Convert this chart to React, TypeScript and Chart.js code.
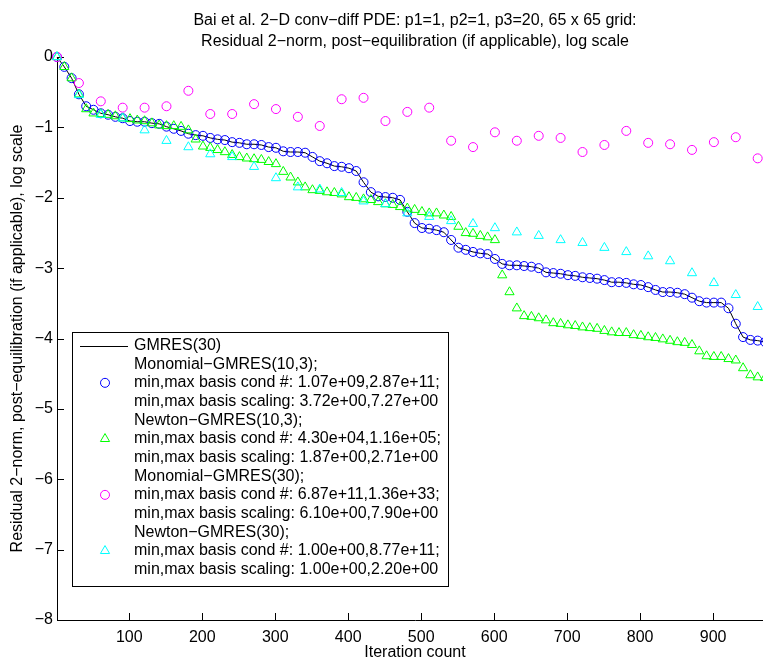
import React, { useEffect, useRef } from "react";
import { Chart, registerables } from "chart.js";

Chart.register(...registerables);

const TITLE_LINES = [
  "Bai et al. 2\u2212D conv\u2212diff PDE: p1=1, p2=1, p3=20, 65 x 65 grid:",
  "Residual 2\u2212norm, post\u2212equilibration (if applicable), log scale",
];
const X_LABEL = "Iteration count";
const Y_LABEL = "Residual 2\u2212norm, post\u2212equilibration (if applicable), log scale";
const X_TICKS = [100, 200, 300, 400, 500, 600, 700, 800, 900];
const Y_TICKS = [0, -1, -2, -3, -4, -5, -6, -7, -8];

// iteration counts of the markers (every 10 and every 30 iterations)
const ITER10 = [
  1, 11, 21, 31, 41, 51, 61, 71, 81, 91,
  101, 111, 121, 131, 141, 151, 161, 171, 181, 191,
  201, 211, 221, 231, 241, 251, 261, 271, 281, 291,
  301, 311, 321, 331, 341, 351, 361, 371, 381, 391,
  401, 411, 421, 431, 441, 451, 461, 471, 481, 491,
  501, 511, 521, 531, 541, 551, 561, 571, 581, 591,
  601, 611, 621, 631, 641, 651, 661, 671, 681, 691,
  701, 711, 721, 731, 741, 751, 761, 771, 781, 791,
  801, 811, 821, 831, 841, 851, 861, 871, 881, 891,
  901, 911, 921, 931, 941, 951, 961, 971, 981,
];
const ITER30 = [
  1, 31, 61, 91, 121, 151, 181, 211, 241, 271, 301,
  331, 361, 391, 421, 451, 481, 511, 541, 571, 601,
  631, 661, 691, 721, 751, 781, 811, 841, 871, 901, 931, 961,
];

// GMRES(30) residual (log10)
const GMRES30 = [
  0, -0.14, -0.30, -0.53, -0.70, -0.75, -0.80, -0.82, -0.85, -0.87,
  -0.91, -0.92, -0.92, -0.94, -0.95, -0.99, -1.02, -1.05, -1.09, -1.11,
  -1.12, -1.15, -1.17, -1.18, -1.21, -1.22, -1.24, -1.24, -1.25, -1.28,
  -1.29, -1.34, -1.35, -1.35, -1.36, -1.42, -1.48, -1.51, -1.55, -1.56,
  -1.58, -1.62, -1.78, -1.92, -1.98, -1.99, -2.00, -2.03, -2.20, -2.36,
  -2.43, -2.44, -2.46, -2.49, -2.60, -2.71, -2.74, -2.77, -2.79, -2.80,
  -2.87, -2.94, -2.96, -2.96, -2.97, -2.98, -3.00, -3.06, -3.07, -3.08,
  -3.10, -3.11, -3.13, -3.14, -3.15, -3.17, -3.20, -3.20, -3.21, -3.23,
  -3.24, -3.27, -3.31, -3.34, -3.34, -3.35, -3.37, -3.42, -3.47, -3.49,
  -3.49, -3.49, -3.57, -3.79, -3.98, -4.02, -4.03, -4.05, -4.08,
];
// Monomial-GMRES(10,3)
const MONO_10_3 = [
  0, -0.14, -0.30, -0.53, -0.70, -0.75, -0.80, -0.82, -0.85, -0.87,
  -0.91, -0.92, -0.92, -0.94, -0.95, -0.99, -1.02, -1.05, -1.09, -1.11,
  -1.12, -1.15, -1.17, -1.18, -1.21, -1.22, -1.24, -1.24, -1.25, -1.28,
  -1.29, -1.34, -1.35, -1.35, -1.36, -1.42, -1.48, -1.51, -1.55, -1.56,
  -1.58, -1.62, -1.78, -1.92, -1.98, -1.99, -2.00, -2.03, -2.20, -2.36,
  -2.43, -2.44, -2.46, -2.49, -2.60, -2.71, -2.74, -2.77, -2.79, -2.80,
  -2.87, -2.94, -2.96, -2.96, -2.97, -2.98, -3.00, -3.06, -3.07, -3.08,
  -3.10, -3.11, -3.13, -3.14, -3.15, -3.17, -3.20, -3.20, -3.21, -3.23,
  -3.24, -3.27, -3.31, -3.34, -3.34, -3.35, -3.37, -3.42, -3.47, -3.49,
  -3.49, -3.49, -3.57, -3.79, -3.98, -4.02, -4.03, -4.05, -4.08,
];
// Newton-GMRES(10,3)
const NEWTON_10_3 = [
  0, -0.14, -0.30, -0.53, -0.74, -0.80, -0.81, -0.82, -0.84, -0.87,
  -0.88, -0.90, -0.91, -0.94, -0.97, -0.98, -0.98, -0.99, -1.04, -1.17,
  -1.27, -1.29, -1.32, -1.35, -1.39, -1.42, -1.44, -1.45, -1.46, -1.49,
  -1.52, -1.63, -1.71, -1.78, -1.85, -1.89, -1.90, -1.92, -1.93, -1.95,
  -1.99, -2.00, -2.02, -2.03, -2.06, -2.09, -2.10, -2.13, -2.15, -2.17,
  -2.20, -2.22, -2.22, -2.25, -2.27, -2.41, -2.50, -2.51, -2.54, -2.56,
  -2.60, -3.10, -3.34, -3.57, -3.68, -3.69, -3.71, -3.74, -3.78, -3.79,
  -3.81, -3.82, -3.84, -3.85, -3.86, -3.89, -3.91, -3.92, -3.92, -3.95,
  -3.96, -3.98, -3.99, -4.01, -4.03, -4.05, -4.06, -4.09, -4.18, -4.25,
  -4.26, -4.26, -4.29, -4.31, -4.42, -4.52, -4.55, -4.56, -4.58,
];
// Monomial-GMRES(30)
const MONO_30 = [
  0, -0.37, -0.63, -0.72, -0.72, -0.70, -0.48, -0.81, -0.81, -0.67, -0.74,
  -0.85, -0.98, -0.60, -0.58, -0.91, -0.78, -0.72, -1.19, -1.28, -1.07,
  -1.19, -1.12, -1.15, -1.35, -1.25, -1.05, -1.22, -1.24, -1.32, -1.21, -1.14, -1.44,
];
// Newton-GMRES(30)
const NEWTON_30 = [
  0, -0.54, -0.82, -0.87, -1.04, -1.19, -1.28, -1.38, -1.42, -1.56, -1.72,
  -1.85, -1.88, -1.93, -2.05, -2.09, -2.22, -2.27, -2.33, -2.37, -2.43,
  -2.49, -2.54, -2.60, -2.64, -2.71, -2.77, -2.83, -2.90, -3.07, -3.21, -3.38, -3.55,
];

const LEGEND_LINES = [
  "GMRES(30)",
  "Monomial\u2212GMRES(10,3);",
  "min,max basis cond #: 1.07e+09,2.87e+11;",
  "min,max basis scaling: 3.72e+00,7.27e+00",
  "Newton\u2212GMRES(10,3);",
  "min,max basis cond #: 4.30e+04,1.16e+05;",
  "min,max basis scaling: 1.87e+00,2.71e+00",
  "Monomial\u2212GMRES(30);",
  "min,max basis cond #: 6.87e+11,1.36e+33;",
  "min,max basis scaling: 6.10e+00,7.90e+00",
  "Newton\u2212GMRES(30);",
  "min,max basis cond #: 1.00e+00,8.77e+11;",
  "min,max basis scaling: 1.00e+00,2.20e+00",
];

const FONT = "'Liberation Sans', Arial, Helvetica, sans-serif";
const BLUE = "#0000ff";
const GREEN = "#00ff00";
const MAGENTA = "#ff00ff";
const CYAN = "#00ffff";

const pts = (xs: number[], ys: number[]) => ys.map((y, i) => ({ x: xs[i], y }));

const inwardTicks = {
  id: "inwardTicks",
  beforeDatasetsDraw(chart: any) {
    const { ctx, chartArea, scales } = chart;
    ctx.save();
    ctx.strokeStyle = "#000";
    ctx.lineWidth = 1;
    ctx.beginPath();
    for (const t of scales.y.ticks) {
      const py = Math.round(scales.y.getPixelForValue(t.value)) + 0.5;
      ctx.moveTo(chartArea.left, py);
      ctx.lineTo(chartArea.left + 7, py);
    }
    for (const t of scales.x.ticks) {
      const px = Math.round(scales.x.getPixelForValue(t.value)) + 0.5;
      ctx.moveTo(px, chartArea.bottom);
      ctx.lineTo(px, chartArea.bottom - 7);
    }
    ctx.stroke();
    ctx.restore();
  },
};

const drawMarker = (ctx: CanvasRenderingContext2D, kind: string, x: number, y: number, color: string) => {
  ctx.strokeStyle = color;
  ctx.lineWidth = 1;
  ctx.beginPath();
  if (kind === "circle") {
    ctx.arc(x, y, 4.5, 0, Math.PI * 2);
  } else {
    const r = 5.3;
    ctx.moveTo(x, y - r);
    ctx.lineTo(x + r * Math.sin((2 * Math.PI) / 3), y + r / 2);
    ctx.lineTo(x - r * Math.sin((2 * Math.PI) / 3), y + r / 2);
    ctx.closePath();
  }
  ctx.stroke();
};

const boxLegend = {
  id: "boxLegend",
  afterDraw(chart: any) {
    const ctx: CanvasRenderingContext2D = chart.ctx;
    ctx.save();
    const left = 72.5, top = 332.5, w = 376, h = 254;
    ctx.fillStyle = "#fff";
    ctx.fillRect(left, top, w, h);
    ctx.strokeStyle = "#000";
    ctx.lineWidth = 1;
    ctx.strokeRect(left, top, w, h);
    const y0 = 345.5, dy = 18.67;
    ctx.font = `16px ${FONT}`;
    ctx.fillStyle = "#000";
    ctx.textAlign = "left";
    ctx.textBaseline = "middle";
    LEGEND_LINES.forEach((t, i) => ctx.fillText(t, 134, y0 + i * dy));
    ctx.beginPath();
    ctx.moveTo(80, Math.round(y0) + 0.5);
    ctx.lineTo(128, Math.round(y0) + 0.5);
    ctx.stroke();
    drawMarker(ctx, "circle", 105, y0 + 2 * dy, BLUE);
    drawMarker(ctx, "triangle", 105, y0 + 5 * dy, GREEN);
    drawMarker(ctx, "circle", 105, y0 + 8 * dy, MAGENTA);
    drawMarker(ctx, "triangle", 105, y0 + 11 * dy, CYAN);
    ctx.restore();
  },
};

export default function App() {
  const ref = useRef<HTMLCanvasElement | null>(null);

  useEffect(() => {
    if (!ref.current) return;
    const markerSet = (data: any, color: string, style: string, radius: number, order: number) => ({
      data,
      showLine: false,
      pointStyle: style,
      pointRadius: radius,
      pointBorderWidth: 1,
      pointBorderColor: color,
      pointBackgroundColor: "rgba(0,0,0,0)",
      borderColor: color,
      backgroundColor: "rgba(0,0,0,0)",
      clip: false,
      order,
    });
    const chart = new Chart(ref.current, {
      type: "scatter",
      data: {
        datasets: [
          {
            data: pts(ITER10, GMRES30),
            showLine: true,
            borderColor: "#000",
            borderWidth: 1,
            pointRadius: 0,
            clip: false,
            order: 5,
          } as any,
          markerSet(pts(ITER10, MONO_10_3), BLUE, "circle", 4.5, 4),
          markerSet(pts(ITER10, NEWTON_10_3), GREEN, "triangle", 5.3, 3),
          markerSet(pts(ITER30, MONO_30), MAGENTA, "circle", 4.5, 2),
          markerSet(pts(ITER30, NEWTON_30), CYAN, "triangle", 5.3, 1),
        ],
      },
      options: {
        responsive: false,
        animation: false,
        devicePixelRatio: 1,
        layout: { padding: { left: 0, right: 7, top: 0, bottom: 0 } },
        plugins: {
          legend: { display: false },
          tooltip: { enabled: false },
          title: {
            display: true,
            text: TITLE_LINES,
            fullSize: false,
            color: "#000",
            font: { family: FONT, size: 16, weight: "normal", lineHeight: 21 / 16 },
            padding: { top: 10, bottom: 5 },
          },
        },
        scales: {
          x: {
            type: "linear",
            min: 1,
            max: 982,
            afterBuildTicks: (s: any) => {
              s.ticks = X_TICKS.map((v) => ({ value: v }));
            },
            afterFit: (s: any) => {
              s.height = 41;
            },
            grid: { display: false, drawTicks: false },
            border: { display: true, color: "#000", width: 1 },
            ticks: {
              color: "#000",
              font: { family: FONT, size: 16 },
              padding: 8,
              maxRotation: 0,
              autoSkip: false,
            },
            title: {
              display: true,
              text: X_LABEL,
              color: "#000",
              font: { family: FONT, size: 16, lineHeight: 1 },
              padding: { top: 0, bottom: 0 },
            },
          },
          y: {
            type: "linear",
            min: -8,
            max: 0,
            afterBuildTicks: (s: any) => {
              s.ticks = Y_TICKS.map((v) => ({ value: v }));
            },
            afterFit: (s: any) => {
              s.width = 57;
            },
            grid: { display: false, drawTicks: false },
            border: { display: true, color: "#000", width: 1 },
            ticks: {
              color: "#000",
              font: { family: FONT, size: 16 },
              padding: 4,
              autoSkip: false,
              callback: (v: any) => (v === 0 ? "0" : "\u2212" + Math.abs(Number(v))),
            },
            title: {
              display: true,
              text: Y_LABEL,
              color: "#000",
              font: { family: FONT, size: 16 },
              padding: { top: 8, bottom: 0 },
            },
          },
        },
      },
      plugins: [inwardTicks, boxLegend],
    } as any);
    return () => chart.destroy();
  }, []);

  return (
    <div
      style={{
        position: "absolute",
        left: 0,
        top: 0,
        width: 763,
        height: 661,
        overflow: "hidden",
        background: "#fff",
      }}
    >
      <canvas ref={ref} width={780} height={661} style={{ width: 780, height: 661, display: "block" }} />
    </div>
  );
}
